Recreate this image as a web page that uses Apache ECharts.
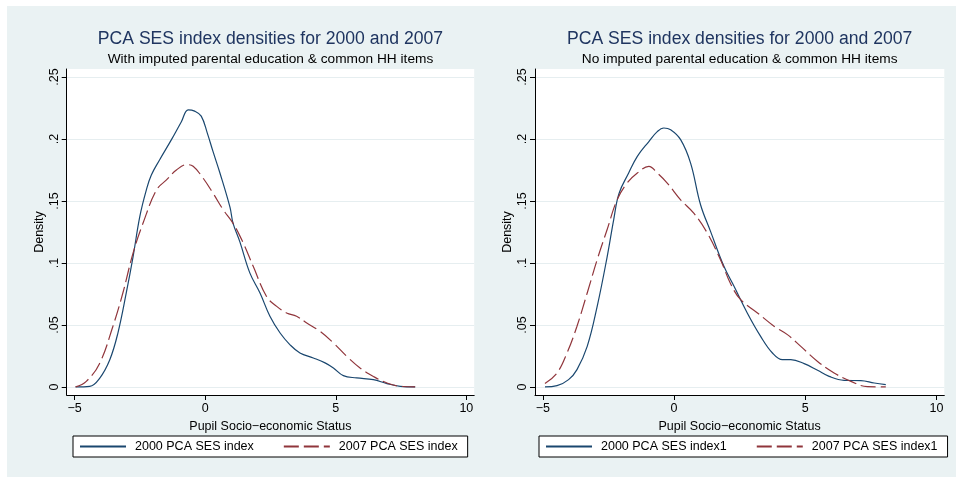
<!DOCTYPE html>
<html><head><meta charset="utf-8">
<script src="https://cdn.jsdelivr.net/npm/echarts@6/dist/echarts.min.js"></script>
<style>
html,body{margin:0;padding:0;background:#fff;}
#bg{position:absolute;left:7px;top:6px;width:949px;height:471px;background:#eaf2f3;}
#chart{position:absolute;left:0;top:0;width:956px;height:483px;}
</style></head><body>
<div id="bg"></div><div id="chart"></div>
<script>
// ---- text ----
const titleText = 'PCA SES index densities for 2000 and 2007';
const subLeft = 'With imputed parental education & common HH items';
const subRight = 'No imputed parental education & common HH items';
const xTitle = 'Pupil Socio\u2212economic Status';
const yTitle = 'Density';
const namesLeft = ['2000 PCA SES index', '2007 PCA SES index'];
const namesRight = ['2000 PCA SES index1', '2007 PCA SES index1'];
// ---- ticks ----
const xTicks = [-5, 0, 5, 10];
const yTicks = [0, 0.05, 0.1, 0.15, 0.2, 0.25];
// ---- left panel (with imputed) ----
const xL2000 = [-4.96,-4.42,-4.04,-3.65,-3.34,-3.02,-2.76,-2.5,-2.25,-2.06,-1.74,-1.29,-0.91,-0.65,-0.4,-0.15,0.08,0.3,0.56,0.95,1.07,1.33,1.71,2.1,2.48,2.87,3.25,3.63,4.14,4.59,4.91,5.29,5.8,6.44,6.96,7.47,8.04];
const yL2000 = [0,0.0005,0.007,0.022,0.0435,0.0758,0.105,0.1376,0.159,0.171,0.1833,0.1995,0.214,0.2236,0.2225,0.2185,0.205,0.19,0.173,0.145,0.132,0.117,0.092,0.0758,0.057,0.0435,0.034,0.0274,0.0234,0.0194,0.0153,0.0091,0.0073,0.0059,0.0027,0.0005,0];
const xL2007 = [-4.96,-4.55,-4.04,-3.53,-3.15,-2.76,-2.38,-1.86,-1.48,-1.1,-0.71,-0.46,-0.08,0.31,0.69,1.07,1.46,1.84,2.35,2.74,3.12,3.5,3.89,4.4,4.91,5.42,5.93,6.44,6.96,7.47,8.04];
const yL2007 = [0,0.0045,0.019,0.049,0.0758,0.108,0.132,0.159,0.167,0.175,0.1793,0.178,0.1685,0.156,0.143,0.132,0.116,0.0973,0.073,0.065,0.0597,0.057,0.0516,0.0448,0.0355,0.0247,0.0153,0.0085,0.0032,0.0005,0];
// ---- right panel (no imputed) ----
const xR2000 = [-4.92,-4.46,-4.02,-3.7,-3.31,-2.93,-2.55,-2.3,-2.1,-1.73,-1.4,-0.96,-0.64,-0.39,-0.13,0.25,0.63,1.01,1.39,1.9,2.29,2.79,3.3,3.75,4.13,4.45,4.96,5.47,5.91,6.48,7.12,7.63,8.07];
const yR2000 = [0,0.001,0.0059,0.014,0.0327,0.065,0.105,0.135,0.156,0.1726,0.186,0.198,0.206,0.2089,0.2075,0.1995,0.1806,0.147,0.1255,0.0973,0.081,0.0597,0.0408,0.0274,0.022,0.022,0.0188,0.0134,0.0085,0.0053,0.0051,0.0032,0.0019];
const xR2007 = [-4.92,-4.46,-4.08,-3.7,-3.31,-2.93,-2.55,-2.17,-1.79,-1.4,-0.96,-0.64,-0.26,0.25,0.76,1.27,1.77,2.16,2.54,3.18,3.81,4.32,4.83,5.47,6.1,6.74,7.37,8.07];
const yR2007 = [0.0027,0.0113,0.0274,0.049,0.0758,0.1027,0.127,0.151,0.1645,0.1726,0.178,0.1726,0.1645,0.151,0.14,0.124,0.1027,0.083,0.0704,0.0597,0.049,0.0422,0.0327,0.0206,0.0113,0.0045,0.0002,0];

const FONT = '"Liberation Sans", Arial, Helvetica, sans-serif';
const BLUE = '#1a476f', RED = '#90353b';
const zip = (xs, ys) => xs.map((x, i) => [x, ys[i]]);
const xFmt = v => v < 0 ? '\u2212' + Math.abs(v) : String(v);
const yFmt = v => v === 0 ? '0' : String(+(+v).toFixed(2)).replace(/^0/, '');

const panels = [
  {left: 66.7, width: 407.5, sub: subLeft, names: namesLeft, legLeft: 73},
  {left: 535, width: 409.3, sub: subRight, names: namesRight, legLeft: 539}
];

const grid = [], xAxis = [], yAxis = [], title = [], legend = [];
panels.forEach((p, i) => {
  const cx = p.left + p.width / 2;
  grid.push({left: p.left, top: 69, width: p.width, height: 326, show: true, backgroundColor: '#fff', borderWidth: 0, containLabel: false});
  xAxis.push({type: 'value', gridIndex: i, min: -5.3, max: 10.3,
    axisLine: {show: true, onZero: false, lineStyle: {color: '#000', width: 1}},
    axisTick: {show: true, length: 5, customValues: xTicks, lineStyle: {color: '#000', width: 1}},
    axisLabel: {customValues: xTicks, formatter: xFmt, fontSize: 12.5, color: '#000', fontFamily: FONT, margin: 7},
    splitLine: {show: false},
    name: xTitle, nameLocation: 'middle', nameGap: 17,
    nameTextStyle: {fontSize: 12.5, color: '#000', fontFamily: FONT}});
  yAxis.push({type: 'value', gridIndex: i, min: -0.0065, max: 0.2565,
    axisLine: {show: true, onZero: false, lineStyle: {color: '#000', width: 1}},
    axisTick: {show: true, length: 5, customValues: yTicks, lineStyle: {color: '#000', width: 1}},
    axisLabel: {customValues: yTicks, formatter: yFmt, rotate: 90, fontSize: 12.5, color: '#000', fontFamily: FONT, margin: 6},
    splitLine: {show: true, lineStyle: {color: '#e6eef0', width: 1}},
    name: yTitle, nameLocation: 'middle', nameGap: 21,
    nameTextStyle: {fontSize: 12.5, color: '#000', fontFamily: FONT}});
  title.push({text: titleText, left: cx, top: 30, textAlign: 'center', padding: 0,
    textStyle: {fontSize: 17.6, fontWeight: 'normal', color: '#1f3560', fontFamily: FONT}});
  title.push({text: p.sub, left: cx, top: 52, textAlign: 'center', padding: 0,
    textStyle: {fontSize: 13.7, fontWeight: 'normal', color: '#000', fontFamily: FONT}});
  legend.push({data: p.names, left: p.legLeft, top: 436, orient: 'horizontal',
    itemWidth: 46, itemHeight: 14, itemGap: 29, padding: [4, 10, 4, 6],
    borderColor: '#000', borderWidth: 1, borderRadius: 0, backgroundColor: '#fff', selectedMode: false,
    itemStyle: {opacity: 0},
    textStyle: {fontSize: 12.5, color: '#000', fontFamily: FONT, padding: [0, 0, 0, 4]}});
});

const mk = (name, xs, ys, idx, color, dashed) => ({
  name, type: 'line', xAxisIndex: idx, yAxisIndex: idx, data: zip(xs, ys),
  symbol: 'none', showSymbol: false, smooth: 0.4,
  lineStyle: {color, width: 1.2, type: dashed ? [15, 5] : 'solid'},
  itemStyle: {color}, emphasis: {disabled: true}, silent: true
});

const chart = echarts.init(document.getElementById('chart'), null, {renderer: 'canvas'});
chart.setOption({
  animation: false, backgroundColor: 'transparent',
  title, grid, xAxis, yAxis, legend,
  series: [
    mk(namesLeft[0], xL2000, yL2000, 0, BLUE, false),
    mk(namesLeft[1], xL2007, yL2007, 0, RED, true),
    mk(namesRight[0], xR2000, yR2000, 1, BLUE, false),
    mk(namesRight[1], xR2007, yR2007, 1, RED, true)
  ]
});
</script></body></html>
